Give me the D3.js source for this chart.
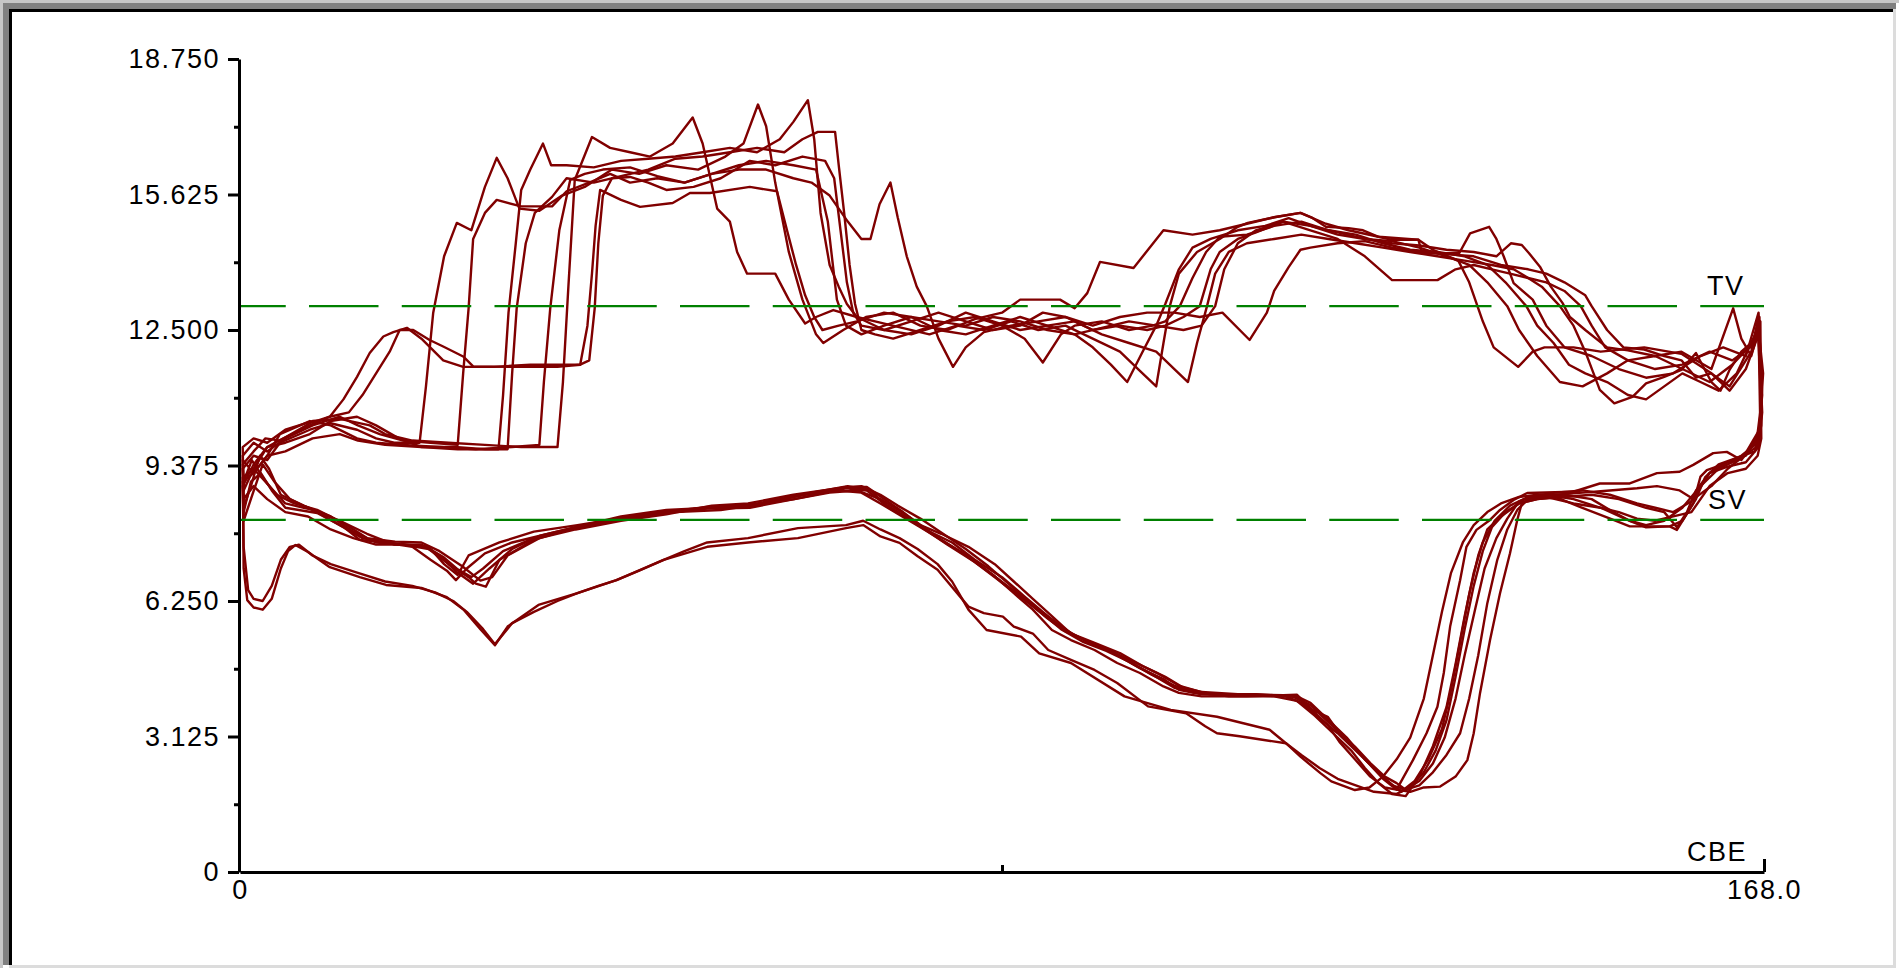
<!DOCTYPE html>
<html>
<head>
<meta charset="utf-8">
<script src="https://cdn.jsdelivr.net/npm/d3@7"></script>
<style>
body { margin: 0; background: #fff; }
text { font-family: "Liberation Sans", Arial, sans-serif; font-size: 27px; letter-spacing: 1.5px; fill: #000; }
</style>
</head>
<body>
<svg id="chart" width="1902" height="971"></svg>
<script>
// upper branch of each run, [CBE, value]
var up1 = [[0.3,9.3],[1.5,9.6],[3,9.5],[4.4,9.9],[7.7,10.2],[10,10.35],[12.9,10.2],[15,10.0],[17,9.9],[19.8,9.9],[20.5,11.2],[21.3,12.9],[22.5,14.2],[23.9,14.97],[25.5,14.8],[27,15.8],[28.3,16.47],[29.5,16.0],[30.8,15.3],[33,15.25],[35.5,15.6],[38,15.8],[41,16.2],[44,16.1],[47,16.3],[50.5,16.2],[53.5,16.5],[55.5,16.8],[57.1,17.7],[58,17.2],[59,15.9],[60.5,14.3],[62,13.2],[63.5,12.4],[64.3,12.2],[66.5,12.5],[69,12.8],[72,12.9],[75,12.6],[78,12.5],[81,12.75],[84,12.9],[86,13.2],[90.4,13.2],[92,13.0],[93.4,13.35],[94.8,14.07],[98.5,13.93],[101.8,14.8],[105,14.7],[108,14.8],[111,14.95],[114,15.1],[116.9,15.2],[119.7,14.95],[122.2,14.8],[125.5,14.65],[129.9,14.58],[131.5,14.35],[134.3,14.1],[135.5,13.6],[137,12.7],[138.2,12.1],[140.9,11.65],[142.5,12.0],[143.8,12.1],[147,12.1],[150,12.0],[154.8,12.1],[158.9,11.95],[162.2,11.5],[164.2,11.2],[166.6,12.0],[167.3,12.7]];
var up2 = [[0.3,9.6],[1.5,9.9],[3,9.7],[5,10.0],[8,10.3],[11,10.5],[13,10.3],[15.4,10.1],[18,9.95],[21,9.9],[24,9.85],[24.6,11.5],[25.2,13.0],[25.7,14.6],[27,15.2],[28.3,15.5],[31,15.35],[34.4,15.35],[36,15.7],[38.5,15.9],[40.8,16.1],[43,15.9],[46,16.0],[49,15.9],[52,16.1],[55,16.3],[58,16.4],[61,16.3],[63.5,16.2],[64.8,15.0],[65.8,13.2],[66.8,12.6],[68.5,12.4],[71,12.6],[74,12.8],[77,12.7],[80,12.6],[83,12.8],[86,12.7],[89,12.5],[92,12.4],[94,12.1],[96,11.7],[97.8,11.3],[99.5,12.0],[101,12.6],[102,13.1],[103.5,13.9],[105,14.4],[107,14.6],[110,14.8],[113,14.9],[115.6,15.08],[118,14.9],[121,14.7],[124,14.6],[127,14.55],[130,14.4],[133,14.2],[135.5,14.0],[137.5,13.6],[139.7,13.05],[141,12.5],[143,11.9],[145.5,11.3],[148,11.2],[150.7,11.5],[153,11.8],[156,11.9],[159,11.6],[162,11.3],[164.5,11.7],[166.8,12.2],[167.5,12.8]];
var up3 = [[0.3,8.9],[1.5,9.4],[3,9.8],[5,9.9],[7.7,10.1],[10,10.4],[12.9,10.5],[15,10.3],[17.5,10.0],[20,9.8],[24,9.75],[28.5,9.75],[29,11.0],[29.6,12.9],[30.4,14.5],[31,15.73],[32,16.2],[33.4,16.8],[34.3,16.3],[36,16.3],[39,16.25],[42,16.4],[45,16.45],[48,16.5],[51,16.6],[54,16.7],[57,16.6],[59.5,16.9],[61,17.3],[62.6,17.8],[63.3,16.9],[64,15.2],[65,14.0],[66,13.5],[66.9,13.1],[68,12.8],[70,12.7],[73,12.55],[76,12.4],[79,12.6],[82,12.5],[85,12.7],[88,12.5],[91,12.6],[94,12.3],[97,12.0],[99,11.6],[101,11.2],[101.8,12.2],[102.5,13.05],[103.5,13.8],[105.5,14.3],[108,14.6],[110,14.88],[111.1,14.97],[114,15.1],[116.9,15.2],[118.1,15.1],[119.7,14.88],[122.2,14.85],[123.8,14.8],[125.5,14.65],[127,14.58],[129.9,14.58],[130.3,14.27],[134.4,14.27],[135.6,14.73],[137.7,14.88],[138.5,14.6],[139.3,14.2],[140.4,13.58],[142.5,13.2],[144,12.6],[146,12.1],[149,11.9],[152,11.6],[155,11.4],[158,11.5],[161,11.9],[163.5,12.1],[166,11.9],[167.4,12.9]];
var up4 = [[0.3,9.0],[1.5,9.2],[3,9.6],[5,9.7],[8,10.0],[11,10.1],[13,9.95],[16,9.85],[20,9.8],[24,9.8],[27,9.75],[29.5,9.75],[30,11.5],[30.5,13.0],[31.5,14.5],[32.5,15.2],[34.4,15.57],[36,16.0],[39,15.9],[42,16.05],[45,16.2],[48,16.45],[51,16.5],[54,16.6],[57,16.7],[60,16.6],[62,16.9],[63.7,17.07],[65.6,17.07],[66,16.3],[66.6,15.2],[67.2,14.0],[67.8,13.1],[68.5,12.5],[70,12.4],[72,12.3],[75,12.5],[78,12.7],[81,12.8],[84,12.6],[86.5,12.3],[88.5,11.75],[90.5,12.4],[92,12.6],[95,12.7],[98,12.5],[100.6,12.6],[102,12.7],[103.6,13.05],[105,13.7],[106.5,14.3],[108,14.65],[111,14.7],[114,14.9],[117,15.0],[120,14.8],[123,14.7],[126,14.5],[129,14.35],[132,14.3],[135,14.2],[137.5,14.0],[139.5,13.6],[141.8,13.05],[143,12.6],[144.8,12.2],[146.5,11.7],[148.3,11.5],[150.7,11.3],[153,11.0],[155,10.9],[157,11.2],[159,11.5],[161,11.3],[163,11.1],[165,11.5],[166.8,12.3],[167.5,12.6]];
var up5 = [[0.3,9.5],[1.5,9.2],[3,9.6],[4.4,10.1],[7.7,10.4],[10,10.3],[12.9,10.0],[15,9.9],[18,9.85],[22,9.8],[26,9.75],[30,9.8],[33,9.85],[33.5,11.3],[34.2,13.0],[35.2,14.8],[36.4,15.96],[38,16.1],[40,16.2],[43,16.25],[46,16.05],[49,15.9],[52,16.1],[55,16.2],[58,16.2],[61,16.0],[63,15.9],[65,15.6],[67,15.0],[68.5,14.6],[69.5,14.6],[70.5,15.4],[71.7,15.9],[72.5,15.1],[73.5,14.2],[74.6,13.5],[75.7,13.05],[77,12.3],[78.6,11.65],[80,12.1],[82,12.45],[85,12.6],[88,12.7],[91,12.8],[94,12.5],[97,12.6],[100,12.5],[102,12.6],[104,12.8],[105.8,13.05],[107,13.9],[108,14.3],[110,14.6],[112,14.75],[115,15.0],[118,14.9],[121,14.75],[124,14.6],[127,14.5],[130,14.45],[133,14.35],[136,14.3],[138.5,14.2],[140.1,14.5],[141.3,14.46],[142.1,14.27],[143.3,13.96],[144.5,13.5],[145.8,13.12],[146.6,12.8],[148.3,12.5],[150.7,12.1],[153,12.03],[156,11.9],[158.9,12.0],[162.2,11.6],[164.6,13.0],[165.5,12.3],[166.6,11.9],[167.4,12.5]];
var up6 = [[0.3,9.8],[1.5,10.0],[3,9.9],[5,10.2],[8,10.4],[11,10.45],[14.3,10.3],[16,10.1],[19,9.95],[23,9.9],[27,9.85],[31,9.8],[35,9.8],[35.6,11.3],[36.2,13.5],[36.9,15.96],[38.8,16.95],[40.8,16.7],[43,16.6],[45.2,16.5],[47.7,16.8],[49.9,17.4],[51,16.8],[52.6,15.3],[54,15.0],[54.8,14.3],[55.9,13.8],[59,13.8],[60.5,13.2],[62.3,12.65],[63.5,12.8],[65.4,12.96],[68,12.8],[71,12.5],[74,12.4],[77,12.6],[80,12.9],[83,12.7],[86,12.5],[89,12.6],[92,12.7],[95,12.4],[98,12.2],[101,12.0],[103,11.6],[104.5,11.3],[105.5,12.2],[106.6,13.05],[107.5,13.8],[109,14.3],[111,14.5],[114,14.6],[117,14.7],[120,14.6],[123,14.5],[126,14.4],[129,14.3],[132,14.2],[135,14.1],[138,14.0],[140.4,13.9],[142,13.7],[143.5,13.5],[145.5,13.05],[147,12.6],[148.3,12.0],[149.9,11.12],[151.5,10.81],[153.5,10.96],[155,11.27],[157,11.42],[158.9,11.58],[160.5,11.97],[162.2,11.3],[163.2,11.1],[164.2,11.58],[165.5,12.0],[166.6,12.2],[167.4,12.5]];
var up7 = [[0.3,9.4],[1.5,9.7],[2.8,10.0],[4.4,9.95],[7.7,10.35],[9.9,10.5],[11.4,10.9],[12.9,11.42],[14.3,11.97],[15.8,12.35],[16.9,12.45],[18.4,12.55],[20,12.3],[22.4,11.8],[24.6,11.65],[28,11.65],[32,11.7],[36,11.7],[37.5,11.7],[38.3,12.6],[38.8,13.8],[39.2,14.9],[39.7,15.73],[42,15.5],[44.1,15.34],[47.7,15.43],[49.6,15.66],[51.8,15.66],[56.2,15.8],[59.2,15.7],[60.3,14.8],[61.3,14.0],[62.3,13.3],[63.3,12.8],[64.2,12.5],[66,12.6],[68,12.7],[71,12.9],[74,12.8],[77,12.5],[80,12.4],[83,12.6],[86,12.8],[89,12.6],[92,12.4],[95,12.55],[98,12.7],[101,12.6],[104,12.5],[106,12.6],[107.5,13.05],[108.5,13.9],[110,14.5],[112,14.8],[115,15.0],[118,14.8],[121,14.6],[124,14.2],[127,13.65],[132,13.65],[134,13.9],[136,14.0],[138,13.9],[140,13.8],[142,13.7],[144,13.6],[146,13.4],[147.8,13.05],[149,12.6],[150.5,12.1],[153,11.8],[156,11.6],[159,11.7],[162,12.0],[164.5,11.8],[166.5,12.1],[167.6,12.7]];
var up8 = [[0.3,9.1],[1.5,9.3],[3,9.8],[4.4,9.96],[7.7,10.3],[9.9,10.5],[12,10.6],[13.5,11.0],[15,11.5],[16.5,12.0],[17.6,12.5],[19.1,12.5],[20.9,12.27],[22.4,12.12],[24.6,11.89],[25.7,11.66],[30,11.65],[35,11.65],[37.5,11.7],[38.5,11.8],[39.1,13.0],[39.5,14.5],[40,15.6],[41,16.0],[43,16.03],[45,15.9],[47,15.73],[50,15.8],[53,16.0],[56.2,16.4],[59,16.3],[62,16.5],[64.5,16.4],[65.5,16.0],[66.2,14.8],[66.9,13.6],[67.6,12.9],[68.5,12.6],[71,12.5],[74,12.7],[77,12.9],[80,12.7],[83,12.5],[86,12.6],[88.5,12.9],[91,12.8],[94,12.6],[97,12.8],[100,12.9],[103,12.9],[105.8,12.8],[108.3,12.9],[111.3,12.27],[113.2,12.9],[114,13.4],[115.6,13.95],[116.9,14.35],[118,14.4],[121,14.5],[124,14.55],[127,14.4],[130,14.3],[133,14.25],[136,14.2],[139,14.0],[142,13.9],[144,13.8],[146,13.6],[148.3,13.3],[149,13.05],[150.7,12.5],[152.5,12.1],[154.8,12.05],[157,11.9],[158.9,11.8],[160.5,11.4],[162.2,11.5],[164.2,11.1],[166,11.6],[167.4,12.4]];

// lower branch of each run, [CBE, value]
var lo1 = [[0.4,8.3],[1.2,9.0],[2.3,9.2],[3.5,8.8],[5,8.4],[8.5,8.28],[11.4,7.96],[13.2,7.66],[17.1,7.58],[20.8,7.5],[22.5,7.1],[24,6.85],[25.2,7.3],[28.6,7.6],[32.4,7.85],[37.2,8.0],[41.9,8.16],[46.7,8.3],[51.5,8.42],[56.2,8.44],[61.1,8.65],[66.8,8.88],[69.1,8.88],[71,8.6],[73.1,8.3],[75,8.0],[77.3,7.8],[80.3,7.5],[83.2,7.1],[85.3,6.7],[87.4,6.3],[89.5,5.9],[91.6,5.5],[94.2,5.25],[96.7,5.0],[99.2,4.7],[101.8,4.45],[103.5,4.2],[106,4.1],[116.5,4.04],[118.2,3.73],[119.9,3.4],[121.2,3.0],[122.9,2.6],[124.6,2.2],[126.2,1.95],[127.5,1.9],[129.3,2.58],[130.8,3.2],[132,3.81],[132.7,4.59],[133.4,5.66],[134.5,6.73],[135.2,7.5],[136.3,7.89],[137.8,8.12],[138.9,8.35],[140.4,8.58],[141.9,8.74],[147,8.77],[149.9,8.96],[153.2,8.96],[156.2,9.2],[158.7,9.23],[160.2,9.39],[162.4,9.66],[163.9,9.69],[165.5,9.5],[167.2,9.96],[167.7,10.8]];
var lo2 = [[0.4,8.8],[1.5,9.3],[2.8,9.0],[5,8.5],[8,8.35],[11,8.1],[14,7.8],[17,7.55],[20,7.55],[22,7.3],[24,6.9],[25.7,6.65],[27.5,7.0],[30,7.45],[33,7.75],[37,7.95],[42,8.2],[47,8.35],[52,8.4],[57,8.5],[62,8.7],[66,8.8],[68.5,8.75],[70.6,8.5],[73,8.2],[75,7.95],[77,7.7],[80,7.3],[83,6.85],[85.5,6.45],[88,6.05],[90,5.75],[92,5.45],[95,5.2],[98,4.9],[101,4.6],[103.5,4.3],[106,4.15],[110,4.1],[115,4.08],[117,3.9],[119,3.55],[121,3.2],[123,2.8],[125,2.4],[126.5,2.1],[128,1.85],[129.5,2.1],[131,2.6],[132.5,3.3],[133.5,4.2],[134.5,5.3],[135.5,6.4],[136.5,7.3],[137.5,7.9],[139,8.2],[141,8.5],[143,8.6],[145,8.65],[147.7,8.42],[151.4,8.12],[153.2,7.97],[157.6,7.97],[158.4,7.89],[160.2,8.5],[161,9.12],[161.7,9.27],[163.5,9.4],[165.5,9.6],[167.3,9.9],[167.7,10.5]];
var lo3 = [[0.4,8.1],[1.2,8.6],[2.5,9.4],[3.8,9.0],[5.5,8.6],[8.5,8.3],[11,8.0],[13.5,7.7],[16,7.6],[19,7.5],[21,7.2],[22.8,6.95],[23.8,6.73],[25,7.0],[27,7.35],[30,7.6],[34,7.8],[38,8.0],[43,8.15],[48,8.3],[53,8.35],[58,8.5],[63,8.75],[67,8.9],[69.5,8.8],[71.5,8.4],[74,8.1],[76,7.85],[78.5,7.6],[81,7.2],[84,6.8],[86.5,6.35],[88.5,6.0],[90.5,5.65],[93,5.35],[96,5.1],[98.5,4.8],[101,4.5],[103,4.25],[105,4.15],[109,4.05],[114,4.05],[116.5,3.95],[118.5,3.6],[120.5,3.2],[122.5,2.8],[124,2.4],[125.5,2.05],[127,1.8],[128.5,1.75],[130,2.2],[131.5,2.9],[133,3.8],[134,4.8],[135,5.9],[136,6.9],[137,7.6],[138.3,8.1],[140,8.45],[142,8.65],[145,8.75],[148,8.8],[151,8.7],[154,8.5],[156,8.4],[158,8.3],[160,8.55],[162,9.2],[164,9.45],[166,9.6],[167.4,10.1],[167.8,11.0]];
var lo4 = [[0.4,8.6],[1.5,8.9],[3,8.6],[5,8.3],[7.5,8.2],[10,7.9],[12.5,7.7],[15,7.55],[18,7.55],[20.8,7.45],[23,7.1],[25.2,6.8],[26,6.65],[27.1,6.58],[28.6,7.2],[32.4,7.66],[37.2,7.96],[41.9,8.16],[46.7,8.28],[51.5,8.38],[56.2,8.4],[61.1,8.6],[65,8.75],[68,8.8],[70.6,8.6],[73.1,8.28],[74.7,8.05],[77.3,7.66],[80.3,7.28],[83.2,6.82],[85.3,6.43],[87.4,6.05],[89.5,5.58],[91.6,5.35],[94.2,5.12],[96.7,4.82],[99.2,4.59],[101.8,4.28],[103.5,4.13],[106,4.05],[111,4.05],[116.5,4.09],[118.2,3.74],[119.9,3.58],[121.2,3.2],[122.9,2.89],[124.6,2.51],[126.2,2.2],[127.5,2.05],[128.5,1.9],[130,2.1],[131.5,2.5],[132.8,3.1],[134,4.0],[135,5.0],[136.2,6.1],[137.2,7.0],[138.5,7.7],[139.7,8.15],[141,8.55],[143,8.7],[146,8.7],[149,8.6],[151.4,8.3],[153.2,8.1],[155,8.0],[157,8.1],[159,8.4],[161,8.9],[163,9.3],[165,9.5],[167.2,9.8],[167.7,10.3]];
var lo5 = [[0.4,9.0],[1.3,9.5],[2.5,9.1],[4,8.7],[6,8.5],[8.5,8.35],[11.4,8.05],[14,7.7],[17.1,7.62],[20,7.6],[22,7.4],[24.5,7.05],[26.5,6.72],[27.8,6.8],[29.5,7.3],[33,7.7],[37,7.9],[42,8.1],[47,8.25],[52,8.45],[56,8.5],[61,8.7],[66,8.85],[68.5,8.9],[70.6,8.7],[72.5,8.45],[75,8.15],[77.5,7.8],[80,7.45],[82.5,7.05],[85,6.6],[87,6.2],[89,5.85],[91,5.55],[94,5.3],[97,5.05],[99.5,4.75],[102,4.5],[104,4.25],[107,4.1],[112,4.1],[116,4.05],[118,3.85],[120,3.45],[122,3.05],[124,2.6],[125.5,2.3],[127,2.0],[128.5,1.9],[130,2.0],[131.5,2.3],[133,2.7],[134.5,3.2],[135.5,4.0],[136.5,5.0],[137.5,6.2],[138.6,7.2],[139.7,7.9],[140.8,8.35],[142,8.6],[145,8.7],[148,8.75],[151,8.8],[154,8.85],[156.2,8.9],[158.7,8.8],[160.2,8.6],[162.2,8.9],[164,9.3],[165.8,9.6],[167.5,10.2],[167.9,11.5]];
var lo6 = [[0.4,8.4],[1.2,8.9],[2.2,9.6],[3.2,9.3],[4.5,8.7],[7,8.45],[10,8.2],[12.5,7.85],[15,7.6],[18,7.55],[20.5,7.5],[22.5,7.25],[24,6.98],[25.5,6.8],[26.8,7.0],[29,7.4],[32.4,7.7],[37,7.92],[41.9,8.12],[46.7,8.3],[51.5,8.4],[56.2,8.45],[61.1,8.6],[66.8,8.85],[69.1,8.8],[71,8.5],[73.4,8.19],[75.5,7.9],[78,7.55],[81,7.15],[83.5,6.75],[86,6.35],[88.5,5.95],[90.5,5.6],[93,5.3],[95.5,5.1],[98,4.85],[100.5,4.55],[103,4.3],[105,4.15],[108,4.1],[113,4.08],[116.5,4.05],[118,3.9],[120,3.5],[122,3.1],[124,2.6],[126,2.15],[127.5,1.9],[129,1.85],[130.5,1.95],[132.3,1.97],[134,2.2],[135.3,2.58],[136,3.2],[136.7,4.13],[137.8,5.35],[138.9,6.43],[140,7.35],[140.8,8.12],[141.4,8.58],[144,8.7],[147,8.6],[150,8.4],[153.2,8.1],[155,7.95],[157.6,7.97],[159,8.1],[160.5,8.6],[161.5,9.1],[163,9.4],[165,9.55],[167,9.7],[167.6,10.2]];
var lo7 = [[0.4,7.0],[0.8,6.27],[1.5,6.1],[2.5,6.05],[3.5,6.3],[4.5,7.0],[5.3,7.4],[6.1,7.54],[7.5,7.38],[9.9,7.03],[13.2,6.8],[16.1,6.62],[20,6.55],[22.8,6.34],[24.7,6.04],[26.5,5.6],[28.1,5.23],[29.5,5.66],[32.9,6.16],[37.2,6.43],[41.5,6.73],[46.7,7.2],[51.5,7.5],[56,7.6],[61.5,7.7],[66.8,7.93],[68.7,8.0],[70.6,7.74],[72.7,7.59],[74.7,7.28],[76.9,6.97],[80.3,6.12],[82,5.97],[84.1,5.89],[85.3,5.66],[87.4,5.5],[89.1,5.12],[91.6,4.89],[94.2,4.66],[96.7,4.36],[100.1,3.82],[104.3,3.66],[106.4,3.36],[107.7,3.2],[110.2,3.13],[112.7,3.05],[115.3,2.97],[116.9,2.66],[119.1,2.28],[120.3,2.09],[122.9,1.89],[124.5,1.95],[126,2.2],[127.5,2.6],[129,3.1],[130.5,4.0],[131.5,5.0],[132.5,6.0],[133.5,6.9],[134.8,7.6],[136,8.0],[137.5,8.3],[139,8.5],[141,8.65],[143,8.7],[145,8.6],[147,8.5],[150,8.4],[152,8.3],[154,8.15],[156,8.1],[158,8.2],[160,8.3],[162,8.9],[164,9.2],[166,9.3],[167.3,9.6],[167.7,10.0]];
var lo8 = [[0.4,7.5],[0.9,6.5],[1.5,6.3],[2.5,6.25],[3.5,6.6],[4.5,7.2],[5.5,7.5],[6.5,7.55],[8,7.3],[10,7.1],[13,6.9],[16,6.7],[19,6.6],[21.5,6.45],[23.5,6.25],[25,6.0],[26.8,5.6],[28.1,5.25],[30,5.74],[32.4,6.0],[35,6.25],[37.2,6.43],[39.5,6.6],[41.5,6.73],[44,6.95],[46.7,7.2],[49,7.4],[51.5,7.6],[56,7.7],[61.5,7.93],[66.8,8.0],[68.7,8.1],[70.6,7.9],[72.7,7.7],[74.7,7.45],[76.9,7.1],[78.5,6.7],[80.3,6.05],[82.3,5.58],[86.1,5.43],[88.1,5.04],[91.6,4.82],[97.5,4.05],[102.6,3.74],[107.7,3.58],[110.6,3.43],[113.5,3.28],[115.3,2.97],[117,2.7],[119,2.4],[121,2.15],[123,2.0],[125,1.85],[127.5,1.8],[129,1.95],[130.5,2.3],[131.8,2.8],[133,3.5],[134,4.5],[135,5.6],[136,6.6],[137,7.4],[138,7.95],[139.5,8.3],[141,8.5],[143,8.6],[146,8.65],[149,8.7],[152,8.6],[155,8.4],[157,8.3],[158.4,7.95],[159.5,8.3],[160.5,8.8],[162,9.2],[164,9.35],[166,9.45],[167.4,9.8],[167.8,10.6]];

var upperRuns = [up1, up2, up3, up4, up5, up6, up7, up8];
var lowerRuns = [lo1, lo2, lo3, lo4, lo5, lo6, lo7, lo8];

var yTicks = [0, 3.125, 6.25, 9.375, 12.5, 15.625, 18.75];
var yLabels = ["0", "3.125", "6.250", "9.375", "12.500", "15.625", "18.750"];
var yMinor = [1.5625, 4.6875, 7.8125, 10.9375, 14.0625, 17.1875];
var xEnds = [0, 168];
var xLabels = ["0", "168.0"];
var xMid = [84];
var limitNames = ["TV", "SV"];
var limitValues = [13.05, 8.12];
var xTitle = "CBE";

var svg = d3.select("#chart");

// sunken window frame
svg.append("rect").attr("x", 0).attr("y", 0).attr("width", 1899).attr("height", 3).attr("fill", "#c6c6c6");
svg.append("rect").attr("x", 0).attr("y", 0).attr("width", 3).attr("height", 968).attr("fill", "#c6c6c6");
svg.append("rect").attr("x", 3).attr("y", 3).attr("width", 1893).attr("height", 6).attr("fill", "#808080");
svg.append("rect").attr("x", 3).attr("y", 3).attr("width", 6).attr("height", 962).attr("fill", "#808080");
svg.append("rect").attr("x", 9).attr("y", 9).attr("width", 1884).attr("height", 3).attr("fill", "#000");
svg.append("rect").attr("x", 9).attr("y", 9).attr("width", 3).attr("height", 956).attr("fill", "#000");
svg.append("rect").attr("x", 1893).attr("y", 9).attr("width", 3).attr("height", 959).attr("fill", "#dcdcdc");
svg.append("rect").attr("x", 9).attr("y", 965).attr("width", 1887).attr("height", 3).attr("fill", "#dcdcdc");

var x = d3.scaleLinear().domain([0, 168]).range([240, 1764]);
var y = d3.scaleLinear().domain([0, 18.75]).range([872, 59]);

var line = d3.line()
    .x(function (d) { return x(d[0]); })
    .y(function (d) { return y(d[1]); });

// each run is one loop: upper branch out, lower branch back
svg.append("g").selectAll("path")
    .data(d3.range(upperRuns.length))
    .enter().append("path")
    .attr("d", function (i) {
        return line(upperRuns[i].concat(lowerRuns[i].slice().reverse())) + "Z";
    })
    .attr("fill", "none")
    .attr("stroke", "#800000")
    .attr("stroke-width", 2.4)
    .attr("stroke-linejoin", "round");

// limit lines
svg.append("g").selectAll("line")
    .data(limitValues)
    .enter().append("line")
    .attr("x1", x(0)).attr("x2", x(168))
    .attr("y1", function (d) { return y(d); })
    .attr("y2", function (d) { return y(d); })
    .attr("stroke", "#008000")
    .attr("stroke-width", 2.4)
    .attr("stroke-dasharray", "69.5,23.25")
    .attr("stroke-dashoffset", 23.75);

svg.append("g").selectAll("text")
    .data(limitNames)
    .enter().append("text")
    .attr("x", function (d, i) { return i === 0 ? 1707 : 1708; })
    .attr("y", function (d, i) { return y(limitValues[i]) - 11; })
    .text(function (d) { return d; });

// y axis
var yAxisG = svg.append("g").attr("transform", "translate(239,0)")
    .call(d3.axisLeft(y).tickValues(yTicks).tickSize(11).tickSizeOuter(0).tickPadding(8)
        .tickFormat(function (d, i) { return yLabels[i]; }));
yAxisG.selectAll("path, line").attr("stroke", "#000").attr("stroke-width", 3);

var yMinorG = svg.append("g").attr("transform", "translate(239,0)")
    .call(d3.axisLeft(y).tickValues(yMinor).tickSize(5).tickFormat(""));
yMinorG.select(".domain").remove();
yMinorG.selectAll("line").attr("stroke", "#000").attr("stroke-width", 3);

// x axis
var xAxisG = svg.append("g").attr("transform", "translate(0,872)")
    .call(d3.axisBottom(x).tickValues(xEnds).tickSize(0).tickSizeOuter(0).tickPadding(8)
        .tickFormat(function (d, i) { return xLabels[i]; }));
xAxisG.select(".domain").attr("stroke", "#000").attr("stroke-width", 3);

var xMidG = svg.append("g").attr("transform", "translate(0,872)")
    .call(d3.axisBottom(x).tickValues(xMid).tickSize(-7).tickFormat(""));
xMidG.select(".domain").remove();
xMidG.selectAll("line").attr("stroke", "#000").attr("stroke-width", 3);

var xEndG = svg.append("g").attr("transform", "translate(0,872)")
    .call(d3.axisBottom(x).tickValues([168]).tickSize(-13).tickFormat(""));
xEndG.select(".domain").remove();
xEndG.selectAll("line").attr("stroke", "#000").attr("stroke-width", 3);

svg.append("text")
    .attr("x", 1687)
    .attr("y", 861)
    .text(xTitle);
</script>
</body>
</html>
